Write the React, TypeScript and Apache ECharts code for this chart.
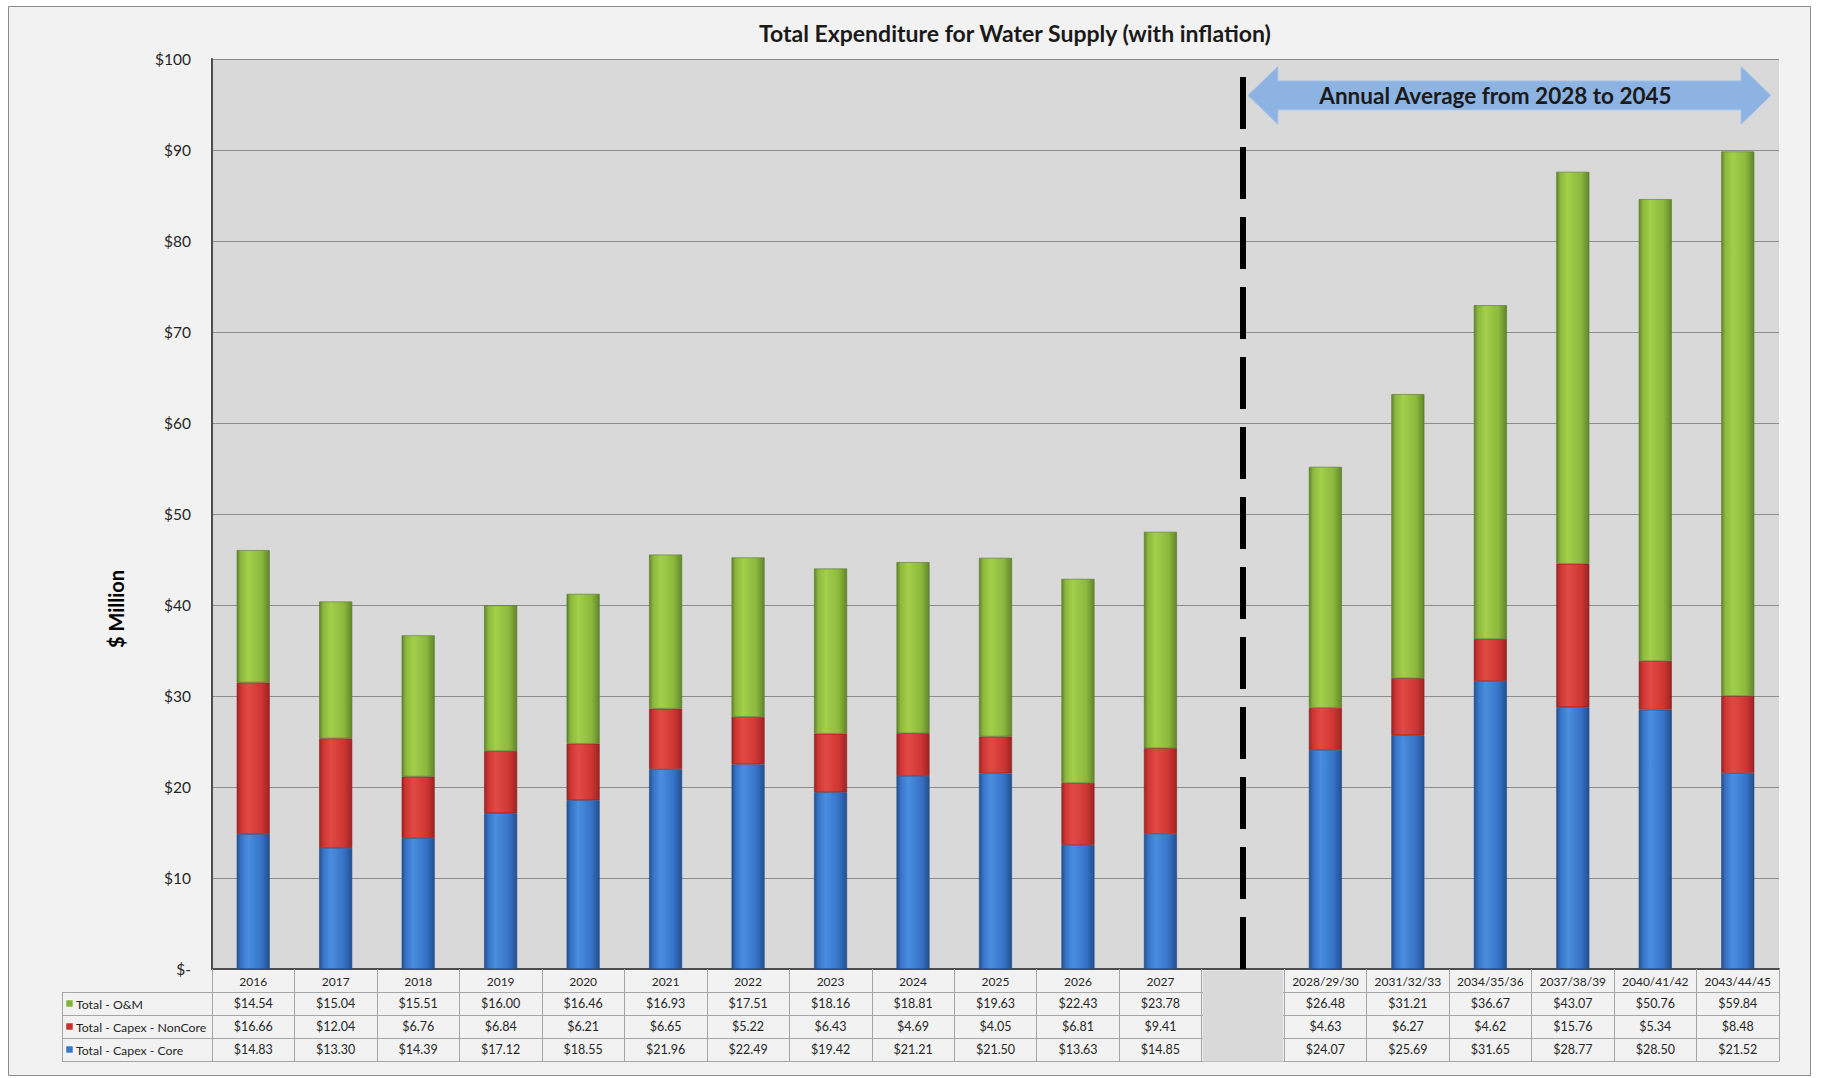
import { useEffect, useRef } from "react";
import * as echarts from "echarts";

const categories = [
  "2016", "2017", "2018", "2019", "2020", "2021", "2022", "2023", "2024", "2025", "2026", "2027",
  " ",
  "2028/29/30", "2031/32/33", "2034/35/36", "2037/38/39", "2040/41/42", "2043/44/45",
];
const gapIndex = 12;

const omValues: (number | null)[] = [
  14.54, 15.04, 15.51, 16.0, 16.46, 16.93, 17.51, 18.16, 18.81, 19.63, 22.43, 23.78,
  null,
  26.48, 31.21, 36.67, 43.07, 50.76, 59.84,
];
const nonCoreValues: (number | null)[] = [
  16.66, 12.04, 6.76, 6.84, 6.21, 6.65, 5.22, 6.43, 4.69, 4.05, 6.81, 9.41,
  null,
  4.63, 6.27, 4.62, 15.76, 5.34, 8.48,
];
const coreValues: (number | null)[] = [
  14.83, 13.3, 14.39, 17.12, 18.55, 21.96, 22.49, 19.42, 21.21, 21.5, 13.63, 14.85,
  null,
  24.07, 25.69, 31.65, 28.77, 28.5, 21.52,
];

const seriesNames = ["Total - O&M", "Total - Capex - NonCore", "Total - Capex - Core"];
const titleText = "Total Expenditure for Water Supply (with inflation)";
const yAxisTitle = "$ Million";
const arrowText = "Annual Average from 2028 to 2045";
const yMin = 0;
const yMax = 100;
const yInterval = 10;
const arrowLevel = 96;

const FONT = 'Lato, "Open Sans", "DejaVu Sans", sans-serif';

const fmt = (v: number | null) => (v == null ? "" : "$" + v.toFixed(2));

const grad = (dark: string, light: string, mid: string) =>
  new echarts.graphic.LinearGradient(0, 0, 1, 0, [
    { offset: 0, color: dark },
    { offset: 0.12, color: mid },
    { offset: 0.35, color: light },
    { offset: 0.75, color: mid },
    { offset: 1, color: dark },
  ]);

export default function App() {
  const ref = useRef<HTMLDivElement>(null);

  useEffect(() => {
    if (!ref.current) return;
    const chart = echarts.init(ref.current, undefined, { renderer: "svg" });

    const W = 1824;
    const H = 1078;
    const gridLeft = 212;
    const gridRight = 45;
    const gridTop = 59;
    const gridBottom = 109;
    const axisY = H - gridBottom;
    const rowH = 23;
    const tableLine = "#a6a6a6";

    const baseX = {
      type: "category" as const,
      data: categories,
      position: "bottom" as const,
      gridIndex: 0,
      axisTick: { show: true, length: rowH, lineStyle: { color: tableLine, width: 1 } },
    };
    const rowLabel = (vals: (number | null)[]) => ({
      interval: 0,
      margin: 5,
      fontSize: 12.5,
      color: "#262626",
      fontFamily: FONT,
      formatter: (_v: string, i: number) => fmt(vals[i]),
    });

    const greenStyle = grad("#62862a", "#a3cf4a", "#8cb93e");
    const redStyle = grad("#9c2424", "#e04a45", "#cf3633");
    const blueStyle = grad("#23508f", "#4a8ee0", "#3673c6");

    const option: any = {
      animation: false,
      backgroundColor: "transparent",
      textStyle: { fontFamily: FONT },
      title: {
        text: titleText,
        left: 754,
        top: 16,
        textStyle: { fontSize: 23, fontWeight: "bold", color: "#1a1a1a", fontFamily: FONT },
      },
      grid: {
        left: gridLeft,
        right: gridRight,
        top: gridTop,
        bottom: gridBottom,
        show: true,
        backgroundColor: "#d9d9d9",
        borderWidth: 0,
      },
      xAxis: [
        {
          ...baseX,
          offset: 0,
          axisLine: { show: true, lineStyle: { color: "#4d4d4d", width: 2 } },
          axisLabel: { interval: 0, margin: 6, fontSize: 12, color: "#262626", fontFamily: FONT },
        },
        {
          ...baseX,
          offset: rowH,
          axisLine: { show: true, lineStyle: { color: tableLine, width: 1 } },
          axisLabel: rowLabel(omValues),
        },
        {
          ...baseX,
          offset: rowH * 2,
          axisLine: { show: true, lineStyle: { color: tableLine, width: 1 } },
          axisLabel: rowLabel(nonCoreValues),
        },
        {
          ...baseX,
          offset: rowH * 3,
          axisLine: { show: true, lineStyle: { color: tableLine, width: 1 } },
          axisLabel: rowLabel(coreValues),
        },
        {
          ...baseX,
          offset: rowH * 4,
          axisLine: { show: true, lineStyle: { color: tableLine, width: 1 } },
          axisTick: { show: false },
          axisLabel: { show: false },
        },
      ],
      yAxis: {
        type: "value",
        min: yMin,
        max: yMax,
        interval: yInterval,
        axisLine: { show: true, lineStyle: { color: "#4d4d4d", width: 2 } },
        axisTick: { show: false },
        splitLine: { show: true, lineStyle: { color: "#8c8c8c", width: 1 } },
        axisLabel: {
          margin: 21,
          fontSize: 15.5,
          color: "#262626",
          fontFamily: FONT,
          formatter: (v: number) => (v === 0 ? "$-" : "$" + v),
        },
      },
      series: [
        {
          name: seriesNames[2],
          type: "bar",
          stack: "total",
          data: coreValues,
          barWidth: 33,
          itemStyle: { color: blueStyle, borderColor: "#1f4a85", borderWidth: 0.6 },
          markLine: {
            silent: true,
            symbol: ["none", "none"],
            label: { show: false },
            lineStyle: { color: "#000000", width: 6, type: [52, 18], cap: "butt" },
            data: [{ xAxis: gapIndex }],
            z: 20,
          },
        },
        {
          name: seriesNames[1],
          type: "bar",
          stack: "total",
          data: nonCoreValues,
          barWidth: 33,
          itemStyle: { color: redStyle, borderColor: "#8a1f1f", borderWidth: 0.6 },
        },
        {
          name: seriesNames[0],
          type: "bar",
          stack: "total",
          data: omValues,
          barWidth: 33,
          itemStyle: { color: greenStyle, borderColor: "#56752a", borderWidth: 0.6 },
        },
      ],
      graphic: [
        {
          type: "rect",
          z: -10,
          silent: true,
          shape: { x: 8.5, y: 6.5, width: 1802, height: 1069 },
          style: { fill: "#f2f2f2", stroke: "#8c8c8c", lineWidth: 1 },
        },
      ],
    };

    chart.setOption(option);

    // Compute annotation positions through the library's scales
    const gapX = chart.convertToPixel({ xAxisIndex: 0 }, gapIndex) as number;
    const x0 = chart.convertToPixel({ xAxisIndex: 0 }, 0) as number;
    const x1 = chart.convertToPixel({ xAxisIndex: 0 }, 1) as number;
    const slot = x1 - x0;
    const yc = chart.convertToPixel({ yAxisIndex: 0 }, arrowLevel) as number;
    const plotRight = W - gridRight;

    const xl = gapX + 5;
    const xr = plotRight - 8;
    const hl = 30;
    const hh = 29;
    const sh = 14.5;

    const legendLeft = 62;
    const legendColors = ["#7fb539", "#c8312c", "#3a75c8"];
    const legendEls: any[] = [];
    for (let r = 0; r < 4; r++) {
      const y = axisY + rowH * (r + 1);
      legendEls.push({
        type: "line",
        z: 5,
        silent: true,
        shape: { x1: legendLeft, y1: y + 0.5, x2: gridLeft, y2: y + 0.5 },
        style: { stroke: tableLine, lineWidth: 1 },
      });
    }
    legendEls.push({
      type: "line",
      z: 5,
      silent: true,
      shape: { x1: legendLeft + 0.5, y1: axisY + rowH, x2: legendLeft + 0.5, y2: axisY + rowH * 4 },
      style: { stroke: tableLine, lineWidth: 1 },
    });
    seriesNames.forEach((name, r) => {
      const cy = axisY + rowH * (r + 1) + rowH / 2 + 0.5;
      legendEls.push({
        type: "rect",
        z: 6,
        silent: true,
        shape: { x: legendLeft + 4, y: cy - 4, width: 7, height: 7 },
        style: { fill: legendColors[r], stroke: "#ffffff", lineWidth: 0.5 },
      });
      legendEls.push({
        type: "text",
        z: 6,
        silent: true,
        x: legendLeft + 14,
        y: cy,
        style: {
          text: name,
          fontSize: 12.3,
          fontFamily: FONT,
          fill: "#262626",
          verticalAlign: "middle",
          align: "left",
        },
      });
    });

    chart.setOption({
      graphic: [
        option.graphic[0],
        {
          type: "rect",
          z: 10,
          silent: true,
          shape: {
            x: gapX - slot / 2 + 1,
            y: axisY + 1.5,
            width: slot - 2,
            height: rowH * 4 - 1,
          },
          style: { fill: "#d9d9d9" },
        },
        {
          type: "polygon",
          z: 10,
          silent: true,
          shape: {
            points: [
              [xl, yc],
              [xl + hl, yc - hh],
              [xl + hl, yc - sh],
              [xr - hl, yc - sh],
              [xr - hl, yc - hh],
              [xr, yc],
              [xr - hl, yc + hh],
              [xr - hl, yc + sh],
              [xl + hl, yc + sh],
              [xl + hl, yc + hh],
            ],
          },
          style: { fill: "#8db3e2", stroke: "#a9c6ea", lineWidth: 1 },
        },
        {
          type: "text",
          z: 11,
          silent: true,
          x: (xl + xr) / 2 - 14,
          y: yc,
          style: {
            text: arrowText,
            fontSize: 22.5,
            fontWeight: "bold",
            fontFamily: FONT,
            fill: "#1a1a1a",
            align: "center",
            verticalAlign: "middle",
          },
        },
        {
          type: "text",
          z: 11,
          silent: true,
          x: 116,
          y: 609,
          rotation: Math.PI / 2,
          style: {
            text: yAxisTitle,
            fontSize: 20,
            fontWeight: "bold",
            fontFamily: FONT,
            fill: "#000000",
            align: "center",
            verticalAlign: "middle",
          },
        },
        ...legendEls,
      ],
    });

    return () => chart.dispose();
  }, []);

  return (
    <div
      style={{ position: "absolute", left: 0, top: 0, width: 1824, height: 1078, background: "#ffffff" }}
    >
      <div ref={ref} style={{ width: 1824, height: 1078 }} />
    </div>
  );
}
